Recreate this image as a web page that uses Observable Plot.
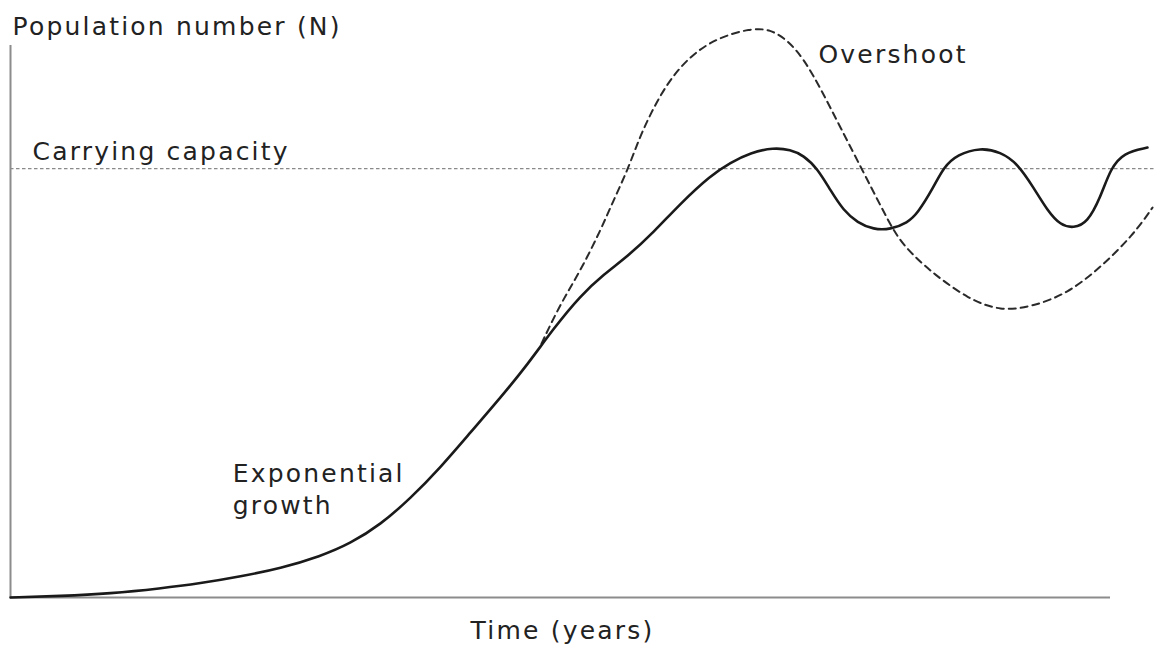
<!DOCTYPE html>
<html>
<head>
<meta charset="utf-8">
<script src="https://cdn.jsdelivr.net/npm/d3@7"></script>
<script src="https://cdn.jsdelivr.net/npm/@observablehq/plot@0.6"></script>
<style>
  html, body { margin: 0; padding: 0; background: #fff; }
  #chart svg { display: block; }
  #chart svg text { letter-spacing: 2.2px; }
</style>
</head>
<body>
<div id="chart"></div>
<script>
// Time (years) and population N (carrying capacity K = 1000)
const carryingCapacity = 1000;

const actualTime = [0, 4.55, 9.09, 13.64, 17.27, 20.91, 24.55, 28.18, 30.91, 33.64, 36.36, 39.09, 41.82, 44.55, 47.0, 49.36, 51.82, 53.91, 56.09, 58.45, 60.91, 63.64, 65.45, 67.27, 69.36, 70.91, 72.09, 73.36, 74.55, 75.73, 77.0, 78.45, 80.0, 81.55, 82.45, 83.91, 84.82, 86.09, 88.18, 90.0, 91.55, 93.0, 94.27, 95.45, 96.64, 97.91, 99.09, 100.0, 101.18, 103.36];
const actualN    = [0, 3.5, 9.3, 21, 33, 49, 68, 96, 126, 170, 231, 303, 385, 466, 543, 627, 704, 753, 795, 851, 919, 984, 1014, 1037, 1049, 1044, 1031, 1000, 949, 902, 874, 858, 858, 874, 895, 956, 1003, 1033, 1049, 1039, 1012, 956, 902, 868, 861, 874, 933, 1000, 1037, 1049];

const overshootTime = [48.27, 50.0, 51.82, 53.64, 54.82, 56.09, 57.09, 58.18, 59.73, 61.82, 64.27, 67.27, 69.09, 70.64, 72.09, 73.64, 75.45, 77.55, 79.09, 80.64, 82.27, 83.91, 87.0, 90.0, 93.0, 96.09, 99.09, 102.09, 103.82];
const overshootN    = [592, 685, 762, 856, 926, 996, 1066, 1128, 1201, 1264, 1305, 1327, 1325, 1299, 1257, 1187, 1096, 991, 914, 837, 793, 755, 697, 667, 679, 709, 769, 846, 909];

const labelText = ["Carrying capacity", "Overshoot", "Exponential\ngrowth"];
const labelTime = [2.0, 73.45, 20.2];
const labelN    = [1021, 1247, 194];

const xTitle = "Time (years)";
const yTitle = "Population number (N)";

const actual = actualTime.map((t, i) => ({t, n: actualN[i]}));
const overshoot = overshootTime.map((t, i) => ({t, n: overshootN[i]}));
const labels = labelText.map((s, i) => ({s, t: labelTime[i], n: labelN[i]}));

const font = "DejaVu Sans, Verdana, sans-serif";

const chart = Plot.plot({
  width: 1156,
  height: 654,
  marginLeft: 10,
  marginRight: 46,
  marginTop: 45,
  marginBottom: 57,
  style: {fontFamily: font, background: "#fff"},
  x: {domain: [0, 100], axis: null},
  y: {domain: [0, 1287], axis: null},
  marks: [
    Plot.ruleY([carryingCapacity], {x1: 0, x2: 104.2, stroke: "#8a8a8a", strokeWidth: 1.2, strokeDasharray: "3.5,2.5"}),
    Plot.ruleX([0], {y1: 0, y2: 1287, stroke: "#8c8c8c", strokeWidth: 2}),
    Plot.ruleY([0], {x1: 0, x2: 100, stroke: "#8c8c8c", strokeWidth: 2}),
    Plot.line(overshoot, {x: "t", y: "n", curve: "basis", stroke: "#2a2a2a", strokeWidth: 2, strokeDasharray: "7,5"}),
    Plot.line(actual, {x: "t", y: "n", curve: "basis", stroke: "#1a1a1a", strokeWidth: 2.6}),
    Plot.text(labels, {x: "t", y: "n", text: "s", textAnchor: "start", lineAnchor: "bottom", fontSize: 25, fill: "#222", lineHeight: 1.28}),
    Plot.text([yTitle], {frameAnchor: "top-left", dx: 2, dy: -11, lineAnchor: "bottom", textAnchor: "start", fontSize: 25, fill: "#222"}),
    Plot.text([xTitle], {frameAnchor: "bottom", dx: 2, dy: 41, lineAnchor: "bottom", fontSize: 25, fill: "#222"})
  ]
});
document.getElementById("chart").appendChild(chart);
</script>
</body>
</html>
